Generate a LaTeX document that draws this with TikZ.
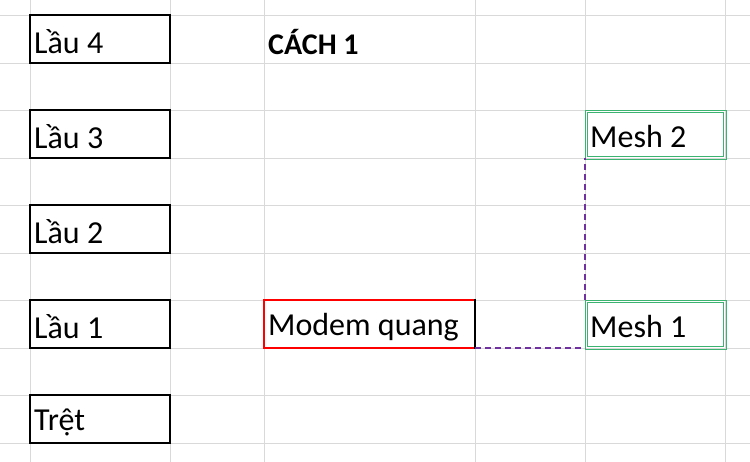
\documentclass[tikz,border=0pt]{standalone}
\usepackage{fontspec}
\setmainfont{Carlito}
\definecolor{pur}{HTML}{7030A0}
\definecolor{grn}{HTML}{3CB371}
\begin{document}
\begin{tikzpicture}[x=1pt,y=-1pt,
 grid/.style={draw=black!15,line width=0.8pt},
 lbl/.style={anchor=west,font=\fontsize{32}{36}\selectfont,inner sep=0pt},
 conn/.style={draw=pur,line width=1.5pt,dash pattern=on 6pt off 4pt}]
\useasboundingbox (0,0) rectangle (750,462);
\fill[white] (0,0) rectangle (750,462);
\foreach \x in {30,170,264,475,585,725} \draw[grid] (\x,0) -- (\x,462);
\foreach \y in {15,63,110,158,205,253,300,348,395,443} \draw[grid] (0,\y) -- (750,\y);
\foreach \n/\y/\t in {l4/15/Lầu 4,l3/110/Lầu 3,l2/205/Lầu 2,l1/300/Lầu 1,tr/395/Trệt}{
 \draw[line width=2.8pt] (30,\y) rectangle (170,\y+48);
 \node[lbl] (\n) at (34,\y+27) {\t};}
\node[lbl,font=\fontsize{30}{34}\selectfont\bfseries] (c1) at (268,42) {CÁCH 1};
\draw[red,line width=2.4pt] (475,300) -- (264,300) -- (264,348) -- (475,348);
\draw[black,line width=2.8pt] (475,299) -- (475,349);
\node[lbl] (mq) at (268,327) {Modem quang};
\coordinate (mqr) at (475,348);
\foreach \n/\y/\t in {m2/110/Mesh 2,m1/300/Mesh 1}{
 \draw[grn,line width=0.9pt] (585,\y) rectangle (726,\y+49);
 \draw[grn,line width=0.9pt] (587.5,\y+2.5) rectangle (723.5,\y+46.5);
 \node[lbl] (\n) at (590,\y+27) {\t};}
\coordinate (m1bl) at (585,348);
\coordinate (m1tl) at (585,300);
\coordinate (m2bl) at (585,158);
\draw[conn] (mqr) -- (m1bl);
\draw[conn] (m1tl) -- (m2bl);
\end{tikzpicture}
\end{document}
